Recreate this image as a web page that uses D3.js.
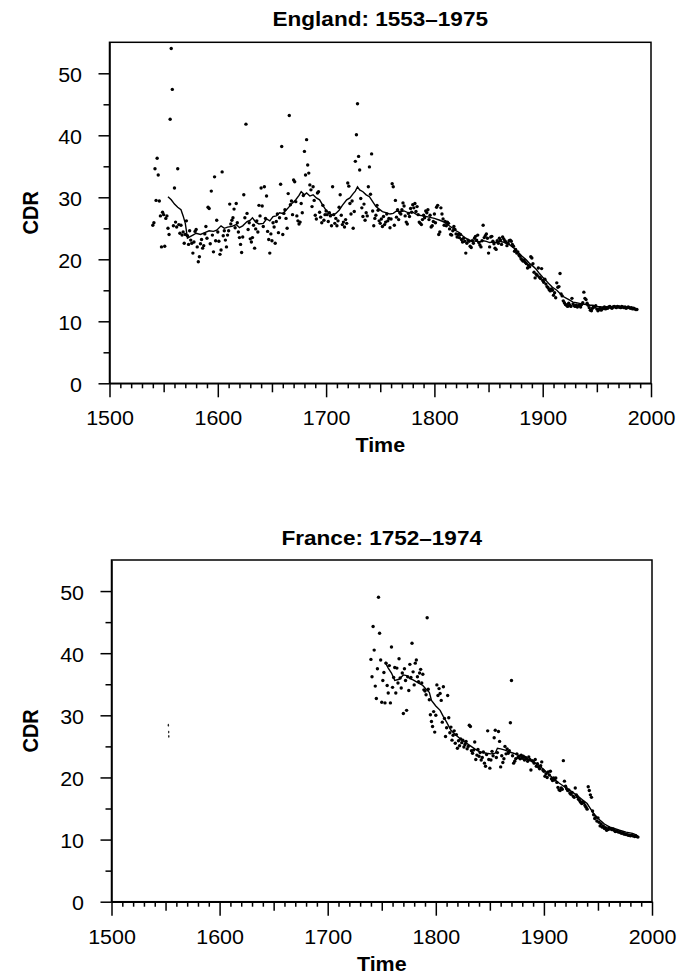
<!DOCTYPE html>
<html>
<head>
<meta charset="utf-8">
<script src="https://cdn.jsdelivr.net/npm/d3@7"></script>
<style>
  body { margin: 0; background: #fff; }
  text { font-family: "Liberation Sans", Arial, Helvetica, sans-serif; fill: #000; }
</style>
</head>
<body>
<script>
// yearly CDR, England (first year 1540)
var englandStart = 1540;
var englandCdr = [
  25.5,25.9,34.6,29.5,36.3,33.6,29.4,27.0,22.0,27.6,
  27.2,22.1,26.6,27.0,25.0,24.0,42.6,54.0,47.4,25.4,
  31.5,26.0,25.2,34.6,25.6,24.2,25.5,23.9,24.4,22.6,
  24.0,26.2,23.8,22.4,24.6,23.1,22.6,21.0,22.8,24.5,
  24.8,22.0,19.6,20.4,22.5,23.2,21.8,22.2,24.1,25.3,
  23.4,28.4,28.2,22.5,31.0,23.9,21.2,33.3,23.0,26.3,
  24.4,22.9,20.8,21.5,34.1,23.8,24.6,23.1,22.0,23.9,
  24.6,28.9,25.7,26.3,26.7,28.1,25.1,29.0,25.9,24.4,
  23.5,22.4,21.1,23.6,30.4,26.7,41.8,27.4,24.8,25.9,
  23.3,22.8,23.5,25.5,21.8,24.9,26.2,24.4,28.7,27.0,
  31.5,28.6,25.3,31.7,26.6,30.2,24.5,23.2,21.0,24.1,
  23.0,25.9,25.2,22.6,26.1,27.3,24.3,26.7,32.1,38.2,
  24.0,27.4,28.0,26.6,25.0,30.6,43.2,28.8,29.4,27.2,
  32.8,32.5,29.3,27.0,26.2,25.7,26.0,29.0,27.5,30.3,
  37.4,33.6,39.3,35.2,33.9,32.0,31.2,28.5,31.7,29.5,
  27.1,26.5,30.7,30.9,27.6,26.8,25.9,28.7,26.3,27.2,
  27.8,27.2,26.1,27.5,27.0,25.4,31.7,27.2,25.8,26.6,
  25.4,26.2,28.4,30.4,27.1,25.6,26.0,25.2,26.4,25.8,
  32.3,31.8,29.0,27.3,29.4,25.0,27.7,35.8,40.1,45.1,
  36.6,34.4,29.8,28.3,26.9,28.9,26.3,27.5,27.0,31.7,
  34.9,30.5,37.0,27.8,25.4,26.6,27.1,28.7,27.9,26.2,
  25.8,26.5,25.3,26.9,25.6,26.0,27.3,26.2,26.6,25.1,
  26.5,32.2,31.7,25.5,29.5,26.8,28.0,26.4,27.5,27.3,
  28.0,29.1,28.6,27.0,26.0,25.7,27.4,26.9,28.2,27.6,
  28.8,28.3,29.0,27.7,28.5,27.2,26.0,25.8,25.6,26.4,
  27.1,26.7,27.8,27.5,28.0,26.4,27.1,25.2,25.4,26.1,
  27.3,25.9,28.4,28.7,24.0,24.4,28.3,27.3,26.5,25.5,
  26.1,25.4,26.0,25.8,24.9,24.0,23.9,24.6,25.3,24.8,
  24.1,23.6,24.0,23.5,24.0,23.2,22.8,23.4,22.9,21.0,
  22.6,23.1,22.9,22.1,21.9,23.0,22.6,23.4,23.7,23.1,
  23.9,22.7,22.3,22.0,23.0,25.5,23.5,23.8,24.1,23.4,
  21.0,22.0,23.6,23.7,22.9,22.5,21.8,21.6,23.0,22.6,
  23.4,23.1,22.4,23.6,23.3,23.0,22.8,22.2,22.6,23.0,
  23.1,22.9,22.4,22.1,21.3,21.6,21.0,21.2,20.7,20.5,
  20.1,19.9,19.7,19.9,19.5,19.3,18.6,19.0,18.8,20.4,
  20.2,19.3,17.9,17.0,17.6,17.4,18.6,17.1,16.9,18.5,
  16.6,16.3,16.8,16.0,15.6,15.4,15.1,14.9,15.2,15.0,
  14.2,14.6,13.8,16.2,15.5,15.6,17.7,14.4,14.1,13.3,
  13.0,12.7,12.6,12.4,12.9,12.6,12.4,13.7,12.8,12.5,
  12.4,12.6,12.3,12.5,12.6,12.3,12.7,13.0,14.7,13.7,
  13.5,12.9,12.6,12.2,11.8,11.7,12.1,12.4,12.3,12.5,
  12.0,11.7,11.9,12.2,11.8,12.0,12.1,12.3,12.0,12.2,
  12.1,12.3,12.4,12.2,12.1,12.3,12.4,12.3,12.2,12.4,
  12.3,12.3,12.2,12.4,12.3,12.2,12.3,12.1,12.2,12.3,
  12.2,12.1,12.2,12.0,12.1,12.0,11.9,11.9
];
var englandTrend = [
  [1554,30.1],[1557,29.6],[1560,28.9],[1563,28.4],[1566,28.0],[1568,27.0],[1570,25.8],[1572,23.4],
  [1574,23.6],[1577,23.9],[1580,24.2],[1584,24.0],[1588,24.3],[1592,24.6],[1596,24.5],[1599,24.7],
  [1603,25.4],[1606,25.0],[1609,25.2],[1613,25.3],[1617,25.6],[1620,25.1],[1623,25.4],[1627,26.1],
  [1630,26.3],[1632,26.7],[1635,26.0],[1638,25.7],[1642,25.8],[1645,26.5],[1648,26.2],[1651,26.9],
  [1654,27.0],[1657,27.5],[1660,27.4],[1663,27.9],[1666,28.5],[1669,29.1],[1672,29.6],[1675,30.3],
  [1677,30.9],[1680,30.4],[1682,30.7],[1685,30.2],[1688,30.4],[1691,29.9],[1694,29.6],[1697,28.7],
  [1700,27.9],[1703,27.4],[1706,27.1],[1709,27.4],[1712,27.9],[1715,28.7],[1719,29.6],[1722,29.9],
  [1725,30.6],[1727,31.0],[1729,31.7],[1731,31.2],[1734,30.9],[1737,30.4],[1740,30.1],[1743,29.3],
  [1746,28.5],[1749,28.1],[1752,27.7],[1756,27.5],[1759,27.3],[1762,27.4],[1765,27.8],[1768,27.7],
  [1772,27.8],[1776,27.5],[1780,27.6],[1783,27.3],[1786,27.1],[1790,27.0],[1795,26.8],[1800,26.6],
  [1805,26.3],[1809,26.0],[1813,25.5],[1817,25.0],[1820,24.6],[1823,24.3],[1826,23.8],[1829,23.4],
  [1832,23.1],[1835,23.0],[1839,22.9],[1842,22.8],[1845,23.0],[1848,22.9],[1851,22.7],[1854,22.8],
  [1857,22.7],[1860,22.9],[1863,22.8],[1866,22.6],[1869,22.4],[1872,22.0],[1875,21.6],[1878,21.0],
  [1881,20.5],[1885,19.9],[1888,19.3],[1891,18.9],[1894,18.4],[1897,17.7],[1900,17.1],[1903,16.6],
  [1906,16.0],[1909,15.5],[1913,15.0],[1916,14.5],[1919,14.0],[1922,13.7],[1925,13.4],[1928,13.1],
  [1931,13.0],[1934,12.9],[1937,12.8],[1940,12.7],[1943,12.6],[1946,12.6],[1950,12.4],[1954,12.3],
  [1958,12.3],[1962,12.3],[1966,12.4],[1970,12.4],[1974,12.3],[1978,12.2],[1982,12.1],[1986,12.0]
];

// yearly CDR, France (first year 1740)
var franceStart = 1740;
var franceCdr = [
  39.0,36.2,44.3,40.5,34.7,32.7,37.5,49.0,43.2,38.9,
  32.1,35.6,36.9,32.0,38.4,34.8,33.6,38.0,32.0,41.0,
  34.5,36.1,37.7,33.6,37.6,35.2,39.1,36.0,34.4,36.8,
  30.3,37.5,35.6,30.8,36.2,34.0,38.2,36.1,41.6,37.0,
  34.9,38.4,38.9,36.2,35.4,36.8,37.4,35.2,36.6,34.1,
  33.9,33.3,45.7,34.2,32.5,30.1,29.0,28.2,30.6,27.3,
  30.0,34.9,33.2,34.3,33.5,32.4,28.9,34.6,29.5,26.6,
  28.0,33.2,29.6,27.2,28.1,26.0,26.8,27.5,25.5,26.9,
  24.7,25.9,25.1,26.2,25.6,26.0,24.9,25.3,25.8,24.6,
  25.0,28.4,28.2,24.3,23.9,24.4,25.7,22.9,23.6,24.5,
  23.4,24.0,22.8,23.2,24.1,22.3,21.8,23.7,27.5,22.9,
  21.5,22.8,24.2,23.5,26.4,27.6,23.2,24.0,27.4,25.8,
  21.7,23.5,22.4,23.0,25.0,23.8,24.6,23.9,24.3,28.8,
  35.6,23.5,22.3,22.6,23.0,23.8,23.2,23.4,23.0,23.6,
  23.1,23.4,22.8,23.2,23.0,22.6,23.3,22.9,21.2,22.7,
  22.6,22.3,22.9,21.8,22.2,21.7,21.4,21.9,22.5,21.2,
  21.0,20.2,20.6,20.0,20.9,20.4,21.0,19.8,19.5,19.9,
  19.6,19.9,19.2,18.4,18.0,17.9,18.3,18.1,22.7,19.4,
  18.6,18.2,17.9,18.0,17.5,17.3,17.6,17.0,16.8,18.3,
  17.2,16.9,16.5,16.3,16.0,15.8,16.1,15.9,15.5,15.2,
  14.9,18.5,17.9,17.2,16.8,14.6,14.0,13.4,13.6,13.0,
  13.5,12.8,12.2,12.5,12.0,12.2,11.8,11.9,11.5,11.6,
  11.9,11.7,11.8,11.6,11.7,11.5,11.3,11.4,11.3,11.2,
  11.2,11.1,11.0,11.1,10.9,10.9,10.8,10.8,10.7,10.7,
  10.6,10.7,10.6,10.6,10.5,10.6,10.5,10.4
];
var franceTrend = [
  [1753,38.6],[1756,37.6],[1759,36.8],[1762,35.6],[1766,35.8],[1770,36.5],[1773,36.4],[1776,35.9],
  [1779,35.7],[1783,35.3],[1788,34.8],[1791,34.2],[1794,33.7],[1796,32.4],[1800,31.5],[1804,30.8],
  [1807,29.8],[1810,28.9],[1814,27.6],[1818,26.9],[1822,26.3],[1826,25.8],[1831,25.2],[1836,24.6],
  [1841,24.1],[1847,23.9],[1851,23.8],[1855,23.9],[1857,24.7],[1860,24.6],[1864,24.4],[1868,24.1],
  [1872,23.9],[1876,23.6],[1881,23.3],[1885,22.9],[1890,22.5],[1895,22.0],[1899,21.4],[1904,20.6],
  [1909,19.8],[1914,19.1],[1919,18.5],[1925,17.8],[1930,17.2],[1935,16.5],[1940,15.8],[1943,15.0],
  [1946,14.2],[1949,13.6],[1952,13.1],[1956,12.5],[1961,12.0],[1965,11.8],[1970,11.5],[1976,11.2],
  [1982,11.0],[1986,10.7]
];
// faint specks printed in the France panel
var franceSpecks = [[1552.6,28.4],[1552.9,27.3],[1553.0,26.6]];

var xTickLabels = [1500,1600,1700,1800,1900,2000];
var yTickLabels = [0,10,20,30,40,50];

var W = 683, H = 980, SX = 1.1;
var svg = d3.select("body").append("svg")
  .attr("width", W)
  .attr("height", H);

function hText(x, y, str, size, weight, rot) {
  svg.append("text")
    .attr("transform", "translate(" + x + "," + y + ") scale(" + SX + ",1)" + (rot ? " rotate(-90)" : ""))
    .attr("text-anchor", "middle")
    .style("font-size", size + "px")
    .style("font-weight", weight)
    .text(str);
}

function drawPanel(p) {
  var x = d3.scaleLinear().domain([1500, 2000]).range([p.left, p.right]);
  var y = d3.scaleLinear().domain([0, 55]).range([p.bottom, p.top]);
  var g = svg.append("g");

  // frame
  g.append("rect")
    .attr("x", p.left).attr("y", p.top)
    .attr("width", p.right - p.left).attr("height", p.bottom - p.top)
    .attr("fill", "none").attr("stroke", "#000").attr("stroke-width", 1.5);

  // x axis: minor, half-century, century ticks
  var minorX = d3.range(1510, 2000, 10).filter(function(d) { return d % 50 != 0; });
  var midX = [1550, 1650, 1750, 1850, 1950];
  [[minorX, 5], [midX, 9]].forEach(function(t) {
    var a = g.append("g").attr("transform", "translate(0," + p.bottom + ")")
      .call(d3.axisBottom(x).tickValues(t[0]).tickSize(t[1]).tickSizeOuter(0).tickFormat(""));
    a.select(".domain").remove();
  });
  var xa = g.append("g").attr("transform", "translate(0," + p.bottom + ")")
    .call(d3.axisBottom(x).tickValues(xTickLabels).tickSize(14).tickPadding(14).tickSizeOuter(0).tickFormat(d3.format("d")));
  xa.selectAll("text").attr("transform", "scale(" + SX + ",1)").style("font-size", "19.5px");

  // y axis
  var ym = g.append("g").attr("transform", "translate(" + p.left + ",0)")
    .call(d3.axisLeft(y).tickValues([5, 15, 25, 35, 45]).tickSize(6).tickSizeOuter(0).tickFormat(""));
  ym.select(".domain").remove();
  var ya = g.append("g").attr("transform", "translate(" + p.left + ",0)")
    .call(d3.axisLeft(y).tickValues(yTickLabels).tickSize(11).tickSizeOuter(0));
  ya.selectAll("text")
    .attr("x", -27.5 / SX)
    .attr("dy", "0.42em")
    .attr("transform", "scale(" + SX + ",1)")
    .style("font-size", "19.5px");

  svg.selectAll(".domain, .tick line").attr("stroke", "#000").attr("stroke-width", 1.5);

  // yearly points
  g.selectAll("circle.pt")
    .data(p.values)
    .enter().append("circle")
    .attr("class", "pt")
    .attr("cx", function(d, i) { return x(p.start + i); })
    .attr("cy", function(d) { return y(d); })
    .attr("r", 1.7)
    .attr("fill", "#000");

  // smoothed curve
  var line = d3.line()
    .x(function(d) { return x(d[0]); })
    .y(function(d) { return y(d[1]); });
  g.append("path")
    .datum(p.trend)
    .attr("d", line)
    .attr("fill", "none")
    .attr("stroke", "#000")
    .attr("stroke-width", 1.4);

  if (p.specks) {
    g.selectAll("ellipse.sp")
      .data(p.specks)
      .enter().append("ellipse")
      .attr("class", "sp")
      .attr("cx", function(d) { return x(d[0]); })
      .attr("cy", function(d) { return y(d[1]); })
      .attr("rx", 0.7).attr("ry", 1.4)
      .attr("fill", "#222");
  }

  var cx = (p.left + p.right) / 2;
  hText(cx, p.titleY, p.title, 20.5, "bold");
  hText(cx, p.bottom + 69, "Time", 19.5, "bold");
  hText(38, (p.top + p.bottom) / 2, "CDR", 20, "bold", true);
}

drawPanel({
  title: "England: 1553\u20131975",
  left: 109.5, right: 651, top: 42.3, bottom: 383.3, titleY: 26,
  start: englandStart, values: englandCdr, trend: englandTrend
});
drawPanel({
  title: "France: 1752\u20131974",
  left: 111.5, right: 652, top: 560, bottom: 901.7, titleY: 545,
  start: franceStart, values: franceCdr, trend: franceTrend, specks: franceSpecks
});
</script>
</body>
</html>
